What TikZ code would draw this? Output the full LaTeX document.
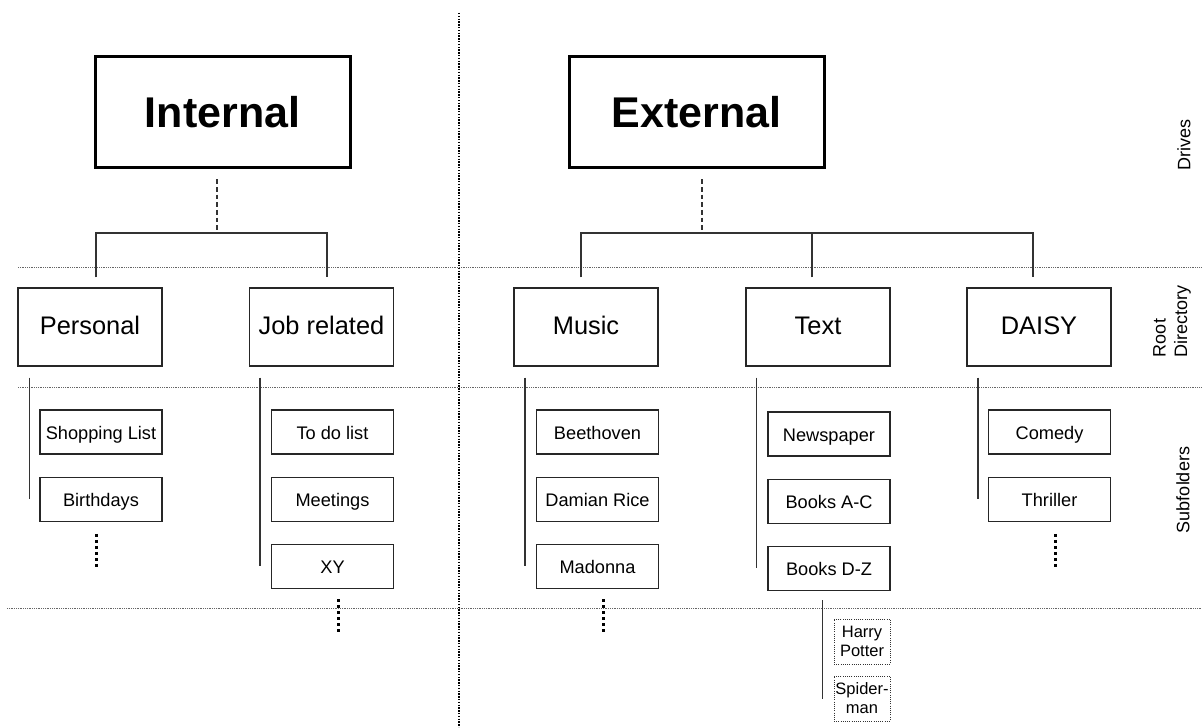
\documentclass[tikz,border=0pt]{standalone}
\usepackage{fontspec}
\setmainfont{Liberation Sans}
\usetikzlibrary{positioning}
\tikzset{
    drivenode/.style={
        rectangle,
        draw=black, % 粗边框
        line width=1.5pt,
        minimum width=127.5pt,
        minimum height=55.5pt,
        inner sep=0,
        font=\bfseries\fontsize{21.5}{24}\selectfont
    },
    rootnode/.style={
        rectangle,
        draw=black!85, % 细边框
        line width=0.6pt,
        minimum width=72pt,
        minimum height=39pt,
        inner sep=0,
        text height=0.72em,
        text depth=0pt,
        font=\fontsize{12.7}{15}\selectfont
    },
    subnode/.style={
        rectangle,
        draw=black!85,
        line width=0.6pt,
        minimum width=61pt,
        minimum height=22pt,
        inner sep=0,
        text height=0.72em,
        text depth=0pt,
        font=\fontsize{9.1}{11}\selectfont
    },
    booknode/.style={
        rectangle,
        draw=black!80, % 点线边框
        line width=0.5pt,
        dash pattern=on 0.5pt off 0.6pt,
        minimum width=28pt,
        minimum height=22.5pt,
        inner sep=0.5pt,
        align=center,
        font=\fontsize{8.25}{9.5}\selectfont
    },
    layerlabel/.style={
        rotate=90,
        align=left,
        inner sep=0,
        font=\fontsize{9}{10.8}\selectfont
    },
    link/.style={draw=black!80, line width=0.6pt},
    dashlink/.style={draw=black!80, line width=0.6pt, dash pattern=on 2.3pt off 1.5pt},
    moredots/.style={draw=black, line width=1.5pt, dash pattern=on 1.5pt off 1.5pt},
    layerline/.style={draw=black!60, line width=0.4pt, dash pattern=on 0.4pt off 0.5pt},
    splitline/.style={draw=black, line width=0.7pt, dash pattern=on 0.7pt off 0.7pt}
}
\begin{document}
\begin{tikzpicture}[x=0.5pt, y=-0.5pt, node distance=11pt]
    \useasboundingbox (0,0) rectangle (1202,727);
    % 分层虚线
    \draw[layerline] (18,267) -- (1202,267);
    \draw[layerline] (18,387) -- (1202,387);
    \draw[layerline] (7,608) -- (1202,608);
    \draw[splitline] (459,13) -- (459,727);

    % 驱动器
    \node[drivenode] (int) at (222.5,112.5) {Internal};
    \node[drivenode] (ext) at (696.5,112.5) {External};
    \coordinate (intbar) at (217,233);
    \coordinate (extbar) at (702,233);

    % 根目录
    \node[rootnode] (pers) at (90,327) {Personal};
    \node[rootnode] (job) at (321.5,327) {Job related};
    \node[rootnode] (mus) at (586,327) {Music};
    \node[rootnode] (txt) at (818,327) {Text};
    \node[rootnode] (daisy) at (1039,327) {DAISY};

    % 子文件夹
    \node[subnode] (shop) at (101,432) {Shopping List};
    \node[subnode, below=of shop] (birth) {Birthdays};
    \node[subnode] (todo) at (332.5,432) {To do list};
    \node[subnode, below=of todo] (meet) {Meetings};
    \node[subnode, below=of meet] (xy) {XY};
    \node[subnode] (beet) at (597.5,432) {Beethoven};
    \node[subnode, below=of beet] (damian) {Damian Rice};
    \node[subnode, below=of damian] (madonna) {Madonna};
    \node[subnode] (news) at (829,434) {Newspaper};
    \node[subnode, below=of news] (bookac) {Books A-C};
    \node[subnode, below=of bookac] (bookdz) {Books D-Z};
    \node[subnode] (comedy) at (1049.5,432) {Comedy};
    \node[subnode, below=of comedy] (thriller) {Thriller};
    \node[booknode] (harry) at (862,641.5) {Harry\\Potter};
    \node[booknode, below=5.5pt of harry] (spider) {Spider-\\man};

    % 连线
    \draw[dashlink, shorten <=5pt] (intbar |- int.south) -- (intbar);
    \draw[dashlink, shorten <=5pt] (extbar |- ext.south) -- (extbar);
    \draw[link, shorten <=5pt, shorten >=5pt]
        ([xshift=3pt]pers.north) |- (intbar) -| ([xshift=2.75pt]job.north);
    \draw[link, shorten <=5pt, shorten >=5pt]
        ([xshift=-2.5pt]mus.north) |- (extbar) -| ([xshift=-3pt]daisy.north);
    \draw[link, shorten <=5pt] ([xshift=-3pt]txt.north) -- ([xshift=-3pt]txt.north |- extbar);

    \draw[link, shorten <=5.5pt] ([xshift=-5pt]birth.west |- pers.south) -- ([xshift=-5pt]birth.west);
    \draw[link, shorten <=5.5pt] ([xshift=-5.5pt]xy.west |- job.south) -- ([xshift=-5.5pt]xy.west);
    \draw[link, shorten <=5.5pt] ([xshift=-5.5pt]madonna.west |- mus.south) -- ([xshift=-5.5pt]madonna.west);
    \draw[link, shorten <=5.5pt] ([xshift=-5.5pt]bookdz.west |- txt.south) -- ([xshift=-5.5pt]bookdz.west);
    \draw[link, shorten <=5.5pt] ([xshift=-5pt]thriller.west |- daisy.south) -- ([xshift=-5pt]thriller.west);
    \draw[link, shorten <=4.5pt] ([xshift=-5.5pt]spider.west |- bookdz.south) -- ([xshift=-5.5pt]spider.west);

    % 省略号
    \draw[moredots] ([xshift=-2.5pt, yshift=-6pt]birth.south) -- ++(0pt,-16.5pt);
    \draw[moredots] ([xshift=2.75pt, yshift=-5pt]xy.south) -- ++(0pt,-16.5pt);
    \draw[moredots] ([xshift=2.75pt, yshift=-5pt]madonna.south) -- ++(0pt,-16.5pt);
    \draw[moredots] ([xshift=2.75pt, yshift=-6pt]thriller.south) -- ++(0pt,-16.5pt);

    % 层标签
    \node[layerlabel] (drives) at (1184,145) {Drives};
    \node[layerlabel] (rootdir) at (1172,321) {Root\\Directory};
    \node[layerlabel] (subf) at (1183,490) {Subfolders};
\end{tikzpicture}
\end{document}
